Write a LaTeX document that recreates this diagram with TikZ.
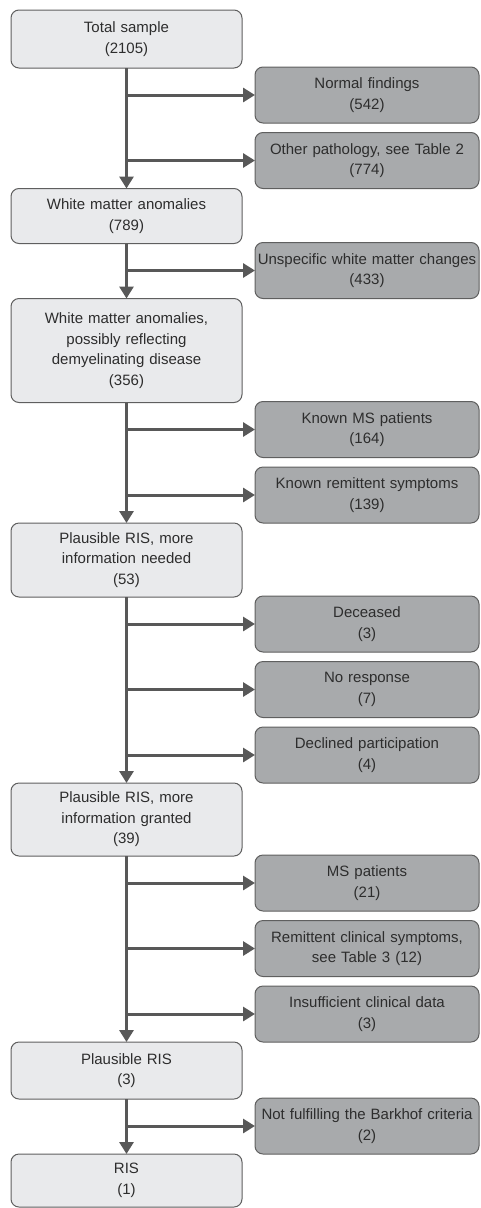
\documentclass[tikz,border=0pt]{standalone}
\usepackage{fontspec}
\setmainfont{Liberation Sans}
\usepackage{xcolor}
\usepackage{tikz}
\usetikzlibrary{positioning}
\usetikzlibrary{arrows.meta}
\definecolor{boxlight}{RGB}{233,234,236}
\definecolor{boxdark}{RGB}{168,170,172}
\definecolor{edgegray}{RGB}{95,95,95}
\definecolor{flowgray}{RGB}{88,88,88}
\definecolor{txtgray}{RGB}{45,45,45}
\tikzset{stage/.style ={draw=edgegray, fill=boxlight, line width=1pt, rounded corners=8pt, inner sep=0pt, outer sep=0pt, text width=221pt, minimum width=231pt, align=center, text=txtgray, font=\fontsize{15}{20.5}\selectfont}}
\tikzset{drop/.style ={stage, fill=boxdark, text width=224pt, minimum width=224pt, minimum height=56pt}}
\tikzset{flowarrow/.style ={draw=flowgray, line width=3pt, -{Triangle[length=12pt,width=14pt]}}}

\begin{document}
\begin{tikzpicture}
\useasboundingbox (0,0) rectangle (481pt,-1208pt);
% main column and exclusions
\node [stage, minimum height=58pt] (total) at (126.5pt,-39pt) {Total sample\\(2105)};
\node [drop, below right=-1pt and 13pt of total] (normal) {Normal findings\\(542)};
\node [drop, below=9.5pt of normal] (otherpath) {Other pathology, see Table 2\\(774)};
\node [stage, minimum height=55pt, anchor=north] (wma) at (otherpath.south -| total) {White matter anomalies\\(789)};
\node [drop, below right=-1pt and 13pt of wma] (unspec) {Unspecific white matter changes\\(433)};
\node [stage, minimum height=104pt, anchor=north] (demyel) at (unspec.south -| total) {White matter anomalies,\\possibly reflecting\\demyelinating disease\\(356)};
\node [drop, below right=-1pt and 13pt of demyel] (knownms) {Known MS patients\\(164)};
\node [drop, below=9.5pt of knownms] (knownrem) {Known remittent symptoms\\(139)};
\node [stage, minimum height=74pt, anchor=north] (needed) at (knownrem.south -| total) {Plausible RIS, more\\information needed\\(53)};
\node [drop, below right=-1pt and 13pt of needed] (deceased) {Deceased\\(3)};
\node [drop, below=9.5pt of deceased] (noresp) {No response\\(7)};
\node [drop, below=9.5pt of noresp] (declined) {Declined participation\\(4)};
\node [stage, minimum height=73pt, anchor=north] (granted) at (declined.south -| total) {Plausible RIS, more\\information granted\\(39)};
\node [drop, below right=-1pt and 13pt of granted] (msp) {MS patients\\(21)};
\node [drop, below=9.5pt of msp] (remclin) {Remittent clinical symptoms,\\see Table 3 (12)};
\node [drop, below=9.5pt of remclin] (insuff) {Insufficient clinical data\\(3)};
\node [stage, minimum height=57pt, anchor=north] (plausible) at (insuff.south -| total) {Plausible RIS\\(3)};
\node [drop, below right=-1pt and 13pt of plausible] (barkhof) {Not fulfilling the Barkhof criteria\\(2)};
\node [stage, minimum height=53pt, anchor=north] (ris) at (barkhof.south -| total) {RIS\\(1)};

% flow
\draw [flowarrow] (total.south) |- (normal.west);
\draw [flowarrow] (total.south) |- (otherpath.west);
\draw [flowarrow] (total.south) -- (wma.north);
\draw [flowarrow] (wma.south) |- (unspec.west);
\draw [flowarrow] (wma.south) -- (demyel.north);
\draw [flowarrow] (demyel.south) |- (knownms.west);
\draw [flowarrow] (demyel.south) |- (knownrem.west);
\draw [flowarrow] (demyel.south) -- (needed.north);
\draw [flowarrow] (needed.south) |- (deceased.west);
\draw [flowarrow] (needed.south) |- (noresp.west);
\draw [flowarrow] (needed.south) |- (declined.west);
\draw [flowarrow] (needed.south) -- (granted.north);
\draw [flowarrow] (granted.south) |- (msp.west);
\draw [flowarrow] (granted.south) |- (remclin.west);
\draw [flowarrow] (granted.south) |- (insuff.west);
\draw [flowarrow] (granted.south) -- (plausible.north);
\draw [flowarrow] (plausible.south) |- (barkhof.west);
\draw [flowarrow] (plausible.south) -- (ris.north);
\end{tikzpicture}
\end{document}
